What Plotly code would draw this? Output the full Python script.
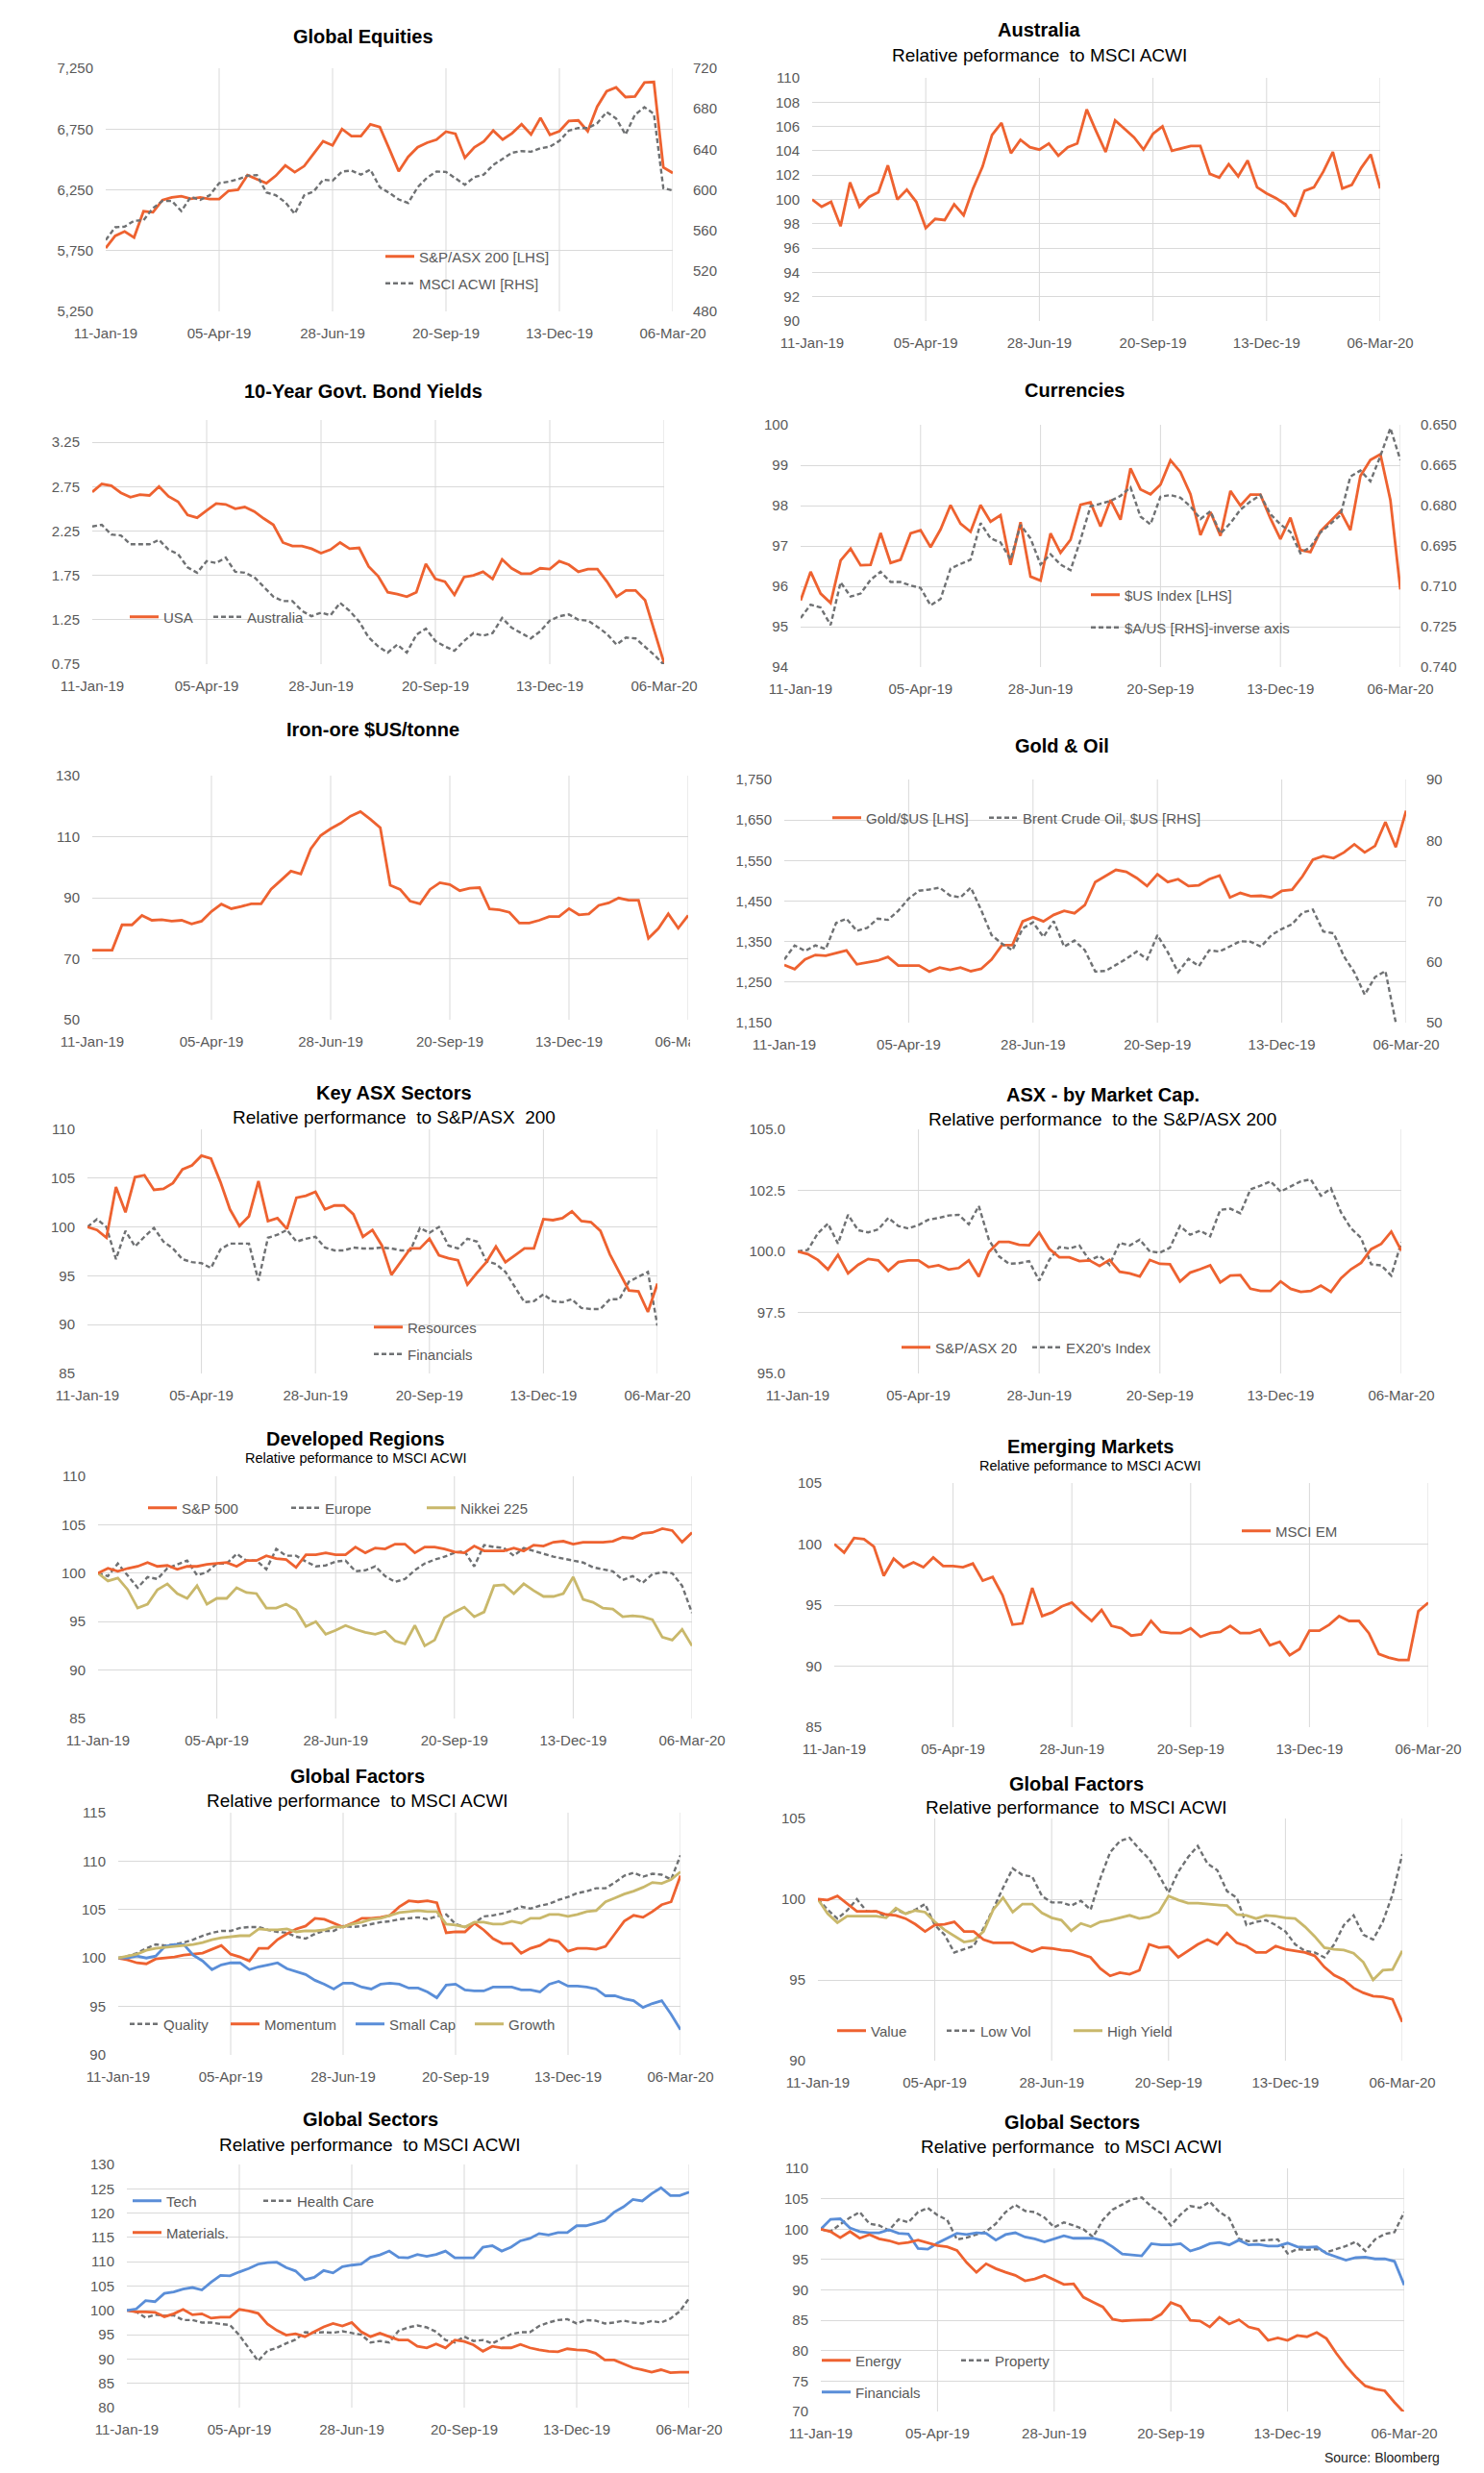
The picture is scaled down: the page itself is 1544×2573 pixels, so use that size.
import pandas as pd
import plotly.graph_objects as go

# ---------------- data ----------------
WEEKS = [d.strftime("%Y-%m-%d") for d in pd.date_range("2019-01-11", "2020-03-06", freq="7D")]
TICK_DATES = ["2019-01-11", "2019-04-05", "2019-06-28", "2019-09-20", "2019-12-13", "2020-03-06"]
TICK_TEXT = ["11-Jan-19", "05-Apr-19", "28-Jun-19", "20-Sep-19", "13-Dec-19", "06-Mar-20"]

ASX200 = [5771, 5871, 5908, 5858, 6074, 6066, 6166, 6187, 6197, 6176,
          6187, 6174, 6174, 6242, 6250, 6371, 6337, 6305, 6366, 6450,
          6395, 6445, 6547, 6650, 6616, 6750, 6692, 6692, 6789, 6766,
          6587, 6403, 6521, 6600, 6637, 6663, 6729, 6711, 6513, 6600,
          6647, 6737, 6663, 6716, 6789, 6705, 6842, 6703, 6732, 6816,
          6821, 6732, 6934, 7061, 7092, 7013, 7018, 7132, 7137, 6434, 6389]
MSCI_ACWI = [550.4, 563, 563.7, 569.4, 570, 582, 589, 589, 579, 593,
             590, 594.6, 606.6, 608, 610.4, 614, 614.5, 597.5, 594.6, 587.7,
             576.3, 594.6, 598.4, 610, 609, 618, 619, 615, 620, 602.5,
             597, 590.5, 587, 602.5, 612, 618, 617.7, 611.7, 605, 612.6,
             615, 624.6, 631, 636.6, 638.2, 637.6, 641, 642.6, 648.3, 658.4,
             661, 661, 665.7, 676.7, 670.4, 654.6, 674.2, 681.5, 675, 601.6, 599.4]
AUSTRALIA_REL = [100, 99.4, 99.8, 97.8, 101.4, 99.4, 100.2, 100.6, 102.8, 100,
                 100.8, 99.8, 97.65, 98.4, 98.3, 99.6, 98.7, 100.9, 102.7, 105.3,
                 106.3, 103.8, 104.9, 104.3, 104.1, 104.6, 103.6, 104.3, 104.6, 107.4,
                 105.6, 103.9, 106.5, 105.8, 105.1, 104.1, 105.4, 106, 104, 104.2,
                 104.4, 104.4, 102.1, 101.8, 102.9, 101.9, 103.2, 101, 100.5, 100.1,
                 99.6, 98.6, 100.7, 101, 102.3, 103.9, 100.9, 101.2, 102.6, 103.7, 100.9]
USA_10Y = [2.69, 2.78, 2.76, 2.68, 2.63, 2.66, 2.65, 2.75, 2.64, 2.58,
           2.43, 2.40, 2.48, 2.56, 2.55, 2.50, 2.52, 2.47, 2.39, 2.32,
           2.12, 2.08, 2.08, 2.05, 2.00, 2.04, 2.12, 2.05, 2.06, 1.85,
           1.74, 1.56, 1.54, 1.51, 1.56, 1.88, 1.71, 1.68, 1.53, 1.73,
           1.75, 1.79, 1.71, 1.93, 1.83, 1.77, 1.77, 1.83, 1.82, 1.91,
           1.87, 1.79, 1.82, 1.82, 1.68, 1.51, 1.58, 1.58, 1.47, 1.12, 0.76]
AUS_10Y = [2.30, 2.32, 2.21, 2.20, 2.10, 2.10, 2.10, 2.15, 2.04, 1.99,
           1.84, 1.78, 1.91, 1.89, 1.95, 1.79, 1.78, 1.73, 1.62, 1.51,
           1.46, 1.46, 1.35, 1.29, 1.33, 1.30, 1.44, 1.35, 1.23, 1.05,
           0.95, 0.88, 0.97, 0.88, 1.08, 1.15, 1.01, 0.95, 0.90, 1.01,
           1.10, 1.07, 1.10, 1.27, 1.16, 1.10, 1.04, 1.12, 1.24, 1.29,
           1.31, 1.25, 1.24, 1.17, 1.09, 0.97, 1.05, 1.04, 0.95, 0.85, 0.74]
USD_INDEX = [95.65, 96.36, 95.82, 95.59, 96.64, 96.93, 96.52, 96.53, 97.32, 96.58,
             96.66, 97.31, 97.39, 96.97, 97.41, 98.01, 97.55, 97.35, 98.01, 97.60,
             97.76, 96.53, 97.59, 96.24, 96.14, 97.31, 96.83, 97.15, 98.02, 98.08,
             97.48, 98.14, 97.65, 98.92, 98.40, 98.28, 98.52, 99.12, 98.83, 98.28,
             97.27, 97.84, 97.25, 98.36, 98.00, 98.27, 98.27, 97.68, 97.17, 97.70,
             96.90, 96.85, 97.36, 97.62, 97.86, 97.39, 98.73, 99.13, 99.27, 98.14, 95.92]
AUDUSD = [0.7218, 0.7168, 0.7179, 0.7244, 0.7085, 0.7138, 0.7127, 0.7076, 0.7046, 0.7084,
          0.7084, 0.7097, 0.7106, 0.7171, 0.7147, 0.7034, 0.7017, 0.7001, 0.6865, 0.6922,
          0.6937, 0.7001, 0.6872, 0.6922, 0.7019, 0.6981, 0.7019, 0.7040, 0.6927, 0.6803,
          0.6793, 0.6783, 0.6764, 0.6732, 0.6841, 0.6870, 0.6767, 0.6761, 0.6771, 0.6803,
          0.6850, 0.6821, 0.6904, 0.6865, 0.6815, 0.6785, 0.6761, 0.6832, 0.6870, 0.6898,
          0.6977, 0.6954, 0.6900, 0.6868, 0.6836, 0.6692, 0.6670, 0.6710, 0.6616, 0.6512, 0.6631]
IRON_ORE = [72.8, 72.8, 72.8, 81.1, 81.1, 84.2, 82.6, 82.8, 82.3, 82.6,
            81.4, 82.3, 85.5, 87.9, 86.4, 87.1, 88.0, 88.0, 92.8, 95.7,
            98.7, 97.8, 106.0, 110.4, 112.6, 114.4, 116.7, 118.2, 115.7, 112.9,
            94.1, 92.7, 88.9, 88.0, 92.7, 94.9, 94.3, 92.3, 93.1, 93.3,
            86.3, 86.0, 85.2, 81.7, 81.7, 82.6, 83.8, 83.8, 86.4, 84.4,
            84.7, 87.5, 88.3, 89.9, 89.2, 89.2, 76.7, 79.9, 84.7, 80.0, 84.2]
GOLD_USD = [1292, 1282, 1306, 1317, 1315, 1321, 1328, 1294, 1298, 1303,
            1312, 1291, 1291, 1291, 1276, 1286, 1280, 1286, 1277, 1283,
            1306, 1341, 1341, 1400, 1410, 1400, 1416, 1426, 1420, 1440,
            1497, 1513, 1527, 1522, 1507, 1487, 1516, 1497, 1504, 1487,
            1489, 1504, 1513, 1459, 1470, 1462, 1463, 1459, 1475, 1478,
            1511, 1552, 1561, 1556, 1570, 1590, 1570, 1586, 1645, 1583, 1673]
BRENT = [60.4, 62.7, 61.8, 62.7, 62.1, 66.4, 67.1, 65.1, 65.6, 67.1,
         66.9, 68.4, 70.4, 71.7, 71.9, 72.2, 70.9, 70.6, 72.2, 68.5,
         64.4, 63.0, 61.9, 65.5, 66.5, 64.1, 66.7, 62.5, 63.5, 61.9,
         58.4, 58.5, 59.5, 60.5, 61.7, 60.4, 64.4, 61.6, 58.3, 60.5,
         59.3, 61.9, 61.7, 62.6, 63.4, 63.3, 62.5, 64.4, 65.4, 66.2,
         68.1, 68.6, 65.0, 64.7, 60.9, 58.3, 54.6, 57.5, 58.5, 50.0, 45.3]
RESOURCES = [100, 99.7, 98.9, 104.1, 101.5, 105.1, 105.3, 103.8, 103.9, 104.5,
             105.9, 106.3, 107.3, 107.0, 104.6, 101.8, 100.1, 101.1, 104.7, 100.6,
             100.9, 99.8, 103.0, 103.2, 103.6, 101.8, 102.2, 102.2, 101.3, 99.0,
             99.7, 98.1, 95.1, 96.4, 97.8, 97.8, 98.8, 97.1, 96.8, 96.6,
             94.1, 95.3, 96.4, 98.0, 96.4, 97.1, 97.8, 97.8, 100.8, 100.7,
             100.9, 101.6, 100.6, 100.5, 99.6, 97.2, 95.3, 93.5, 93.4, 91.3, 94.2]
FINANCIALS_ASX = [100.0, 100.8, 100.0, 96.7, 99.6, 98.0, 99.0, 99.9, 98.5, 97.8,
                  96.7, 96.4, 96.3, 95.8, 97.7, 98.3, 98.3, 98.3, 94.5, 98.9,
                  99.2, 99.7, 98.5, 98.8, 99.0, 97.9, 97.6, 97.6, 97.9, 97.8,
                  97.8, 97.9, 97.8, 97.6, 97.6, 99.9, 99.4, 100.0, 98.1, 97.8,
                  98.8, 98.5, 96.5, 96.2, 95.4, 93.8, 92.3, 92.4, 93.1, 92.4,
                  92.3, 92.6, 91.7, 91.6, 91.6, 92.6, 92.6, 94.4, 94.9, 95.4, 89.9]
ASX20 = [100.0, 99.89, 99.65, 99.26, 99.86, 99.10, 99.45, 99.69, 99.63, 99.20,
         99.56, 99.63, 99.63, 99.36, 99.43, 99.26, 99.32, 99.63, 98.97, 99.98,
         100.39, 100.39, 100.27, 100.25, 100.77, 100.11, 99.76, 99.76, 99.60, 99.63,
         99.40, 99.65, 99.17, 99.10, 98.97, 99.65, 99.49, 99.47, 98.77, 99.13,
         99.27, 99.43, 98.73, 99.01, 99.03, 98.47, 98.38, 98.38, 98.77, 98.47,
         98.34, 98.38, 98.60, 98.34, 98.90, 99.27, 99.53, 100.09, 100.31, 100.81, 100.03]
EX20 = [100.0, 100.06, 100.74, 101.14, 100.32, 101.50, 100.87, 100.78, 100.90, 101.37,
        101.04, 100.94, 101.08, 101.30, 101.37, 101.47, 101.50, 101.11, 101.86, 100.48,
        99.80, 99.49, 99.52, 99.60, 98.80, 99.65, 100.18, 100.12, 100.24, 99.63,
        99.82, 99.45, 100.35, 100.24, 100.48, 100.0, 99.95, 100.15, 101.04, 100.68,
        100.85, 100.62, 101.70, 101.75, 101.56, 102.54, 102.69, 102.87, 102.45, 102.65,
        102.87, 102.95, 102.28, 102.58, 101.6, 100.94, 100.55, 99.47, 99.43, 99.01, 100.37]
SP500_REL = [100.0, 100.5, 100.2, 100.5, 100.7, 101.1, 100.7, 100.8, 100.4, 100.7,
             100.7, 100.9, 101.0, 101.1, 100.7, 101.3, 101.3, 101.8, 101.5, 101.4,
             100.6, 101.9, 101.9, 102.1, 101.9, 101.9, 102.7, 102.1, 102.6, 102.5,
             103.0, 103.0, 102.1, 102.7, 102.7, 102.5, 102.2, 102.1, 102.8, 102.3,
             102.3, 102.3, 102.6, 102.3, 102.9, 102.8, 103.2, 103.3, 103.0, 103.2,
             103.2, 103.2, 103.3, 103.7, 103.6, 104.1, 104.2, 104.6, 104.4, 103.2, 104.2]
EUROPE_REL = [100.0, 99.7, 101.0, 99.8, 98.5, 99.6, 99.4, 100.5, 100.9, 101.3,
              99.8, 100.1, 101.0, 101.0, 102.0, 101.3, 101.3, 100.4, 102.5, 101.8,
              101.8, 101.2, 100.7, 100.8, 101.2, 101.3, 100.2, 100.3, 100.7, 99.7,
              99.1, 99.4, 100.3, 101.0, 101.4, 101.7, 102.1, 102.3, 100.7, 102.9,
              102.7, 102.6, 101.8, 102.6, 102.3, 102.0, 101.7, 101.5, 101.3, 101.1,
              100.6, 100.4, 100.2, 99.3, 99.7, 99.0, 99.9, 100.1, 100.0, 98.7, 95.9]
NIKKEI_REL = [100.0, 99.2, 99.5, 98.3, 96.4, 96.8, 98.3, 98.9, 97.9, 97.4,
              98.7, 96.8, 97.4, 97.4, 98.5, 98.0, 97.9, 96.4, 96.4, 96.8,
              96.2, 94.5, 95.0, 93.7, 94.1, 94.6, 94.2, 93.9, 93.7, 94.0,
              93.0, 92.7, 94.6, 92.5, 93.1, 95.4, 96.0, 96.5, 95.5, 96.0,
              98.7, 98.8, 97.9, 98.9, 98.2, 97.6, 97.6, 97.9, 99.6, 97.3,
              97.0, 96.4, 96.3, 95.5, 95.6, 95.5, 95.2, 93.4, 93.1, 94.2, 92.5]
MSCI_EM_REL = [100.0, 99.3, 100.5, 100.4, 99.8, 97.4, 98.8, 98.1, 98.5, 98.1,
               98.9, 98.2, 98.2, 98.1, 98.4, 97.0, 97.3, 95.8, 93.4, 93.5,
               96.4, 94.1, 94.4, 94.9, 95.2, 94.4, 93.7, 94.6, 93.3, 93.1,
               92.5, 92.6, 93.7, 92.8, 92.7, 92.7, 93.1, 92.4, 92.7, 92.8,
               93.3, 92.7, 92.7, 93.0, 91.7, 92.0, 90.9, 91.4, 92.9, 92.9,
               93.4, 94.1, 93.7, 93.7, 92.7, 91.0, 90.7, 90.5, 90.5, 94.5, 95.2]
QUALITY = [100.0, 100.2, 100.5, 101.0, 101.4, 101.3, 101.4, 101.6, 101.9, 102.3,
           102.6, 102.8, 102.8, 103.1, 103.2, 103.2, 102.9, 102.7, 102.6, 102.2,
           102.0, 102.5, 102.8, 102.8, 103.3, 103.2, 103.3, 103.5, 103.7, 103.8,
           104.0, 104.1, 104.2, 104.0, 104.3, 104.5, 103.5, 103.2, 103.6, 104.3,
           104.4, 104.6, 104.9, 105.3, 105.1, 105.4, 105.6, 106.0, 106.3, 106.7,
           106.9, 107.2, 107.2, 107.8, 108.5, 108.8, 108.4, 108.7, 108.6, 108.1, 110.6]
MOMENTUM = [100.0, 99.8, 99.5, 99.4, 99.9, 100.0, 100.1, 100.3, 100.4, 100.5,
            100.9, 101.3, 100.4, 100.1, 99.7, 101.0, 101.0, 101.9, 102.5, 103.0,
            103.3, 104.1, 104.0, 103.6, 103.2, 103.6, 104.1, 104.1, 104.2, 104.4,
            105.3, 105.9, 105.8, 105.9, 105.7, 102.6, 102.7, 102.7, 103.6, 102.9,
            102.0, 101.5, 101.5, 100.5, 101.0, 101.3, 101.9, 101.7, 100.7, 101.0,
            101.0, 100.9, 101.2, 102.5, 103.8, 104.4, 104.2, 104.8, 105.5, 105.8, 108.5]
SMALL_CAP = [100.0, 100.0, 100.2, 100.0, 100.2, 101.2, 101.4, 101.4, 100.3, 99.7,
             98.8, 99.3, 99.5, 99.5, 98.8, 99.1, 99.3, 99.5, 98.9, 98.6,
             98.3, 97.7, 97.3, 96.8, 97.4, 97.4, 97.0, 96.8, 97.3, 97.4,
             97.3, 96.9, 96.9, 96.5, 95.9, 97.2, 97.3, 96.7, 96.6, 96.6,
             97.0, 97.0, 97.0, 96.7, 96.7, 96.5, 97.3, 97.6, 97.1, 97.1,
             97.0, 96.8, 96.1, 96.1, 95.8, 95.6, 94.9, 95.3, 95.6, 94.2, 92.6]
GROWTH = [100.0, 100.2, 100.4, 100.8, 101.0, 101.1, 101.2, 101.3, 101.4, 101.6,
          101.9, 102.1, 102.2, 102.3, 102.3, 103.0, 102.9, 102.9, 103.0, 102.7,
          102.8, 102.8, 102.9, 103.2, 103.2, 103.5, 103.7, 104.0, 104.1, 104.4,
          104.7, 104.8, 104.9, 104.8, 104.8, 103.5, 103.4, 103.2, 103.7, 103.7,
          103.5, 103.5, 103.8, 103.6, 104.1, 104.1, 104.5, 104.5, 104.3, 104.5,
          104.8, 104.9, 105.8, 106.2, 106.6, 106.9, 107.3, 107.8, 107.7, 108.1, 108.9]
VALUE = [100.0, 99.95, 100.2, 99.7, 99.25, 99.25, 99.25, 99.05, 99.0, 98.8,
         98.45, 98.0, 98.4, 98.45, 98.6, 98.0, 98.0, 97.5, 97.3, 97.3,
         97.3, 97.0, 96.75, 97.0, 96.95, 96.85, 96.8, 96.6, 96.4, 95.7,
         95.25, 95.45, 95.35, 95.6, 97.2, 97.0, 97.05, 96.4, 96.8, 97.2,
         97.5, 97.2, 97.9, 97.3, 97.1, 96.7, 96.7, 97.1, 96.9, 96.8,
         96.7, 96.5, 95.8, 95.3, 95.0, 94.5, 94.2, 94.0, 93.95, 93.8, 92.4]
LOW_VOL = [100.0, 99.35, 98.8, 99.3, 100.0, 99.25, 99.25, 98.9, 99.35, 99.1,
           99.35, 99.7, 98.4, 97.8, 96.7, 96.9, 97.1, 98.2, 99.4, 100.7,
           101.9, 101.5, 101.4, 100.2, 99.8, 99.8, 99.6, 99.9, 99.35, 101.3,
           102.9, 103.6, 103.8, 103.1, 102.5, 101.5, 100.4, 101.7, 102.6, 103.3,
           102.2, 101.8, 100.5, 100.1, 98.4, 98.6, 98.7, 98.4, 98.0, 97.2,
           96.8, 96.7, 96.4, 97.2, 98.4, 99.0, 97.8, 97.5, 98.6, 100.3, 102.8]
HIGH_YIELD = [100.0, 99.1, 98.55, 98.95, 98.95, 98.95, 98.95, 98.85, 99.45, 99.1,
              99.3, 99.2, 98.6, 98.1, 97.7, 97.35, 97.45, 98.0, 99.35, 100.1,
              99.2, 99.7, 99.7, 99.15, 98.85, 98.7, 98.05, 98.5, 98.3, 98.6,
              98.7, 98.85, 99.0, 98.8, 98.9, 99.2, 100.2, 99.95, 99.75, 99.75,
              99.7, 99.65, 99.6, 99.05, 99.0, 98.8, 99.0, 98.95, 98.85, 98.8,
              98.3, 97.7, 97.0, 96.9, 96.85, 96.65, 96.1, 95.0, 95.6, 95.65, 96.8]
TECH = [100.0, 100.3, 102.0, 101.8, 103.5, 103.8, 104.4, 104.7, 104.2, 105.8,
        107.2, 107.1, 107.9, 108.6, 109.5, 109.8, 109.9, 108.8, 108.1, 106.3,
        106.8, 108.2, 107.7, 109.0, 109.3, 109.5, 110.9, 111.4, 112.2, 110.9,
        110.8, 111.5, 111.1, 111.5, 112.2, 110.8, 110.8, 110.8, 113.0, 113.3,
        112.2, 113.0, 114.3, 114.8, 115.8, 115.5, 116.0, 116.0, 117.4, 117.4,
        117.9, 118.5, 120.2, 121.3, 122.8, 122.5, 124.0, 125.2, 123.6, 123.6, 124.3]
HEALTH_CARE = [100.0, 99.7, 98.5, 99.1, 98.9, 99.0, 98.0, 98.0, 97.5, 97.5,
               97.2, 97.0, 94.9, 92.3, 89.6, 91.7, 92.3, 93.2, 94.0, 95.5,
               95.4, 95.5, 95.4, 95.7, 95.4, 95.0, 93.4, 93.7, 93.4, 95.8,
               96.5, 96.9, 96.5, 95.6, 93.9, 93.4, 94.6, 93.7, 93.9, 93.2,
               94.2, 95.1, 95.5, 95.5, 96.8, 97.5, 98.0, 98.2, 97.3, 98.0,
               97.9, 97.3, 97.5, 97.9, 97.5, 97.3, 97.8, 97.5, 98.3, 99.8, 102.5]
MATERIALS = [100.0, 99.7, 99.7, 99.6, 98.7, 99.3, 100.2, 99.1, 99.3, 98.4,
             98.6, 98.6, 100.2, 99.9, 99.4, 97.2, 95.9, 94.9, 95.2, 94.6,
             95.6, 96.6, 97.3, 96.8, 97.5, 95.6, 94.6, 95.3, 94.6, 93.9,
             93.9, 92.6, 92.3, 93.1, 92.3, 93.9, 93.6, 92.9, 91.6, 92.6,
             92.3, 92.3, 93.0, 92.3, 91.9, 91.6, 91.5, 92.1, 91.9, 91.8,
             91.2, 89.8, 89.8, 89.0, 88.2, 87.8, 87.3, 87.8, 87.2, 87.3, 87.3]
ENERGY = [100.0, 99.6, 98.6, 99.6, 98.5, 99.1, 98.4, 98.1, 97.6, 97.8,
          98.2, 97.7, 97.3, 97.1, 96.5, 94.5, 92.9, 94.3, 93.5, 92.9,
          92.4, 91.5, 91.8, 92.4, 91.7, 90.9, 91.0, 88.8, 88.0, 87.2,
          85.2, 84.9, 85.0, 85.1, 85.1, 86.0, 87.9, 87.3, 85.0, 84.9,
          83.9, 85.5, 84.4, 85.1, 83.9, 83.5, 81.7, 82.1, 81.7, 82.5,
          82.3, 83.0, 82.0, 79.6, 77.5, 75.7, 74.2, 73.7, 73.4, 71.5, 69.8]
PROPERTY = [100.0, 99.6, 100.8, 101.9, 102.8, 100.9, 100.6, 99.8, 101.6, 101.1,
            102.8, 103.5, 102.3, 101.5, 98.3, 98.6, 99.1, 99.6, 100.9, 102.8,
            104.0, 103.0, 102.8, 101.9, 100.3, 101.1, 100.6, 100.0, 98.7, 101.5,
            103.2, 104.0, 104.9, 105.2, 103.7, 102.6, 100.6, 102.4, 103.8, 103.5,
            104.5, 102.8, 101.8, 98.4, 98.0, 98.1, 98.2, 98.3, 96.0, 96.7,
            96.6, 96.7, 96.2, 96.7, 97.2, 97.9, 96.4, 98.3, 99.2, 99.5, 102.8]
FINANCIALS_GLOBAL = [100.0, 101.6, 101.7, 100.2, 99.6, 99.4, 99.4, 99.9, 99.3, 99.2,
                     96.8, 96.7, 97.7, 98.5, 99.3, 99.1, 99.4, 99.3, 98.2, 99.1,
                     99.4, 98.7, 98.4, 97.9, 98.4, 98.9, 98.5, 98.5, 98.5, 98.1,
                     97.1, 95.9, 95.7, 95.6, 97.6, 97.4, 97.4, 97.6, 96.4, 96.9,
                     97.6, 97.8, 97.4, 98.2, 97.4, 97.5, 97.2, 97.2, 97.7, 97.1,
                     97.0, 97.1, 96.0, 95.5, 94.9, 95.3, 95.4, 95.1, 95.1, 94.7, 90.8]

# ---------------- styling / layout helpers ----------------
OFF = 8                      # page margin of the browser body
W, H = 1544 - 2 * OFF, 2573 - 2 * OFF
FONT = "Liberation Sans, Arial, Helvetica, sans-serif"
ORANGE = "#EE6230"
GREY = "#6F7173"
BLUE = "#5A8ED8"
OLIVE = "#C9B86B"
TXT = "#595959"
GRID = "#D9D9D9"
TICKSIZE = 15
DASH = "5px,3px"
SOLID_W = 2.8
DASH_W = 2.4


def fx(p):
    return (p - OFF) / W


def fy(p):
    return 1 - (p - OFF) / H


def akey(kind, n):
    return kind if n == 1 else f"{kind}{n}"


def aref(letter, n):
    return letter if n == 1 else f"{letter}{n}"


fig = go.Figure()
lay = dict(template="none", width=W, height=H, autosize=False,
           margin=dict(l=0, r=0, t=0, b=0, pad=0, autoexpand=False),
           paper_bgcolor="white", plot_bgcolor="white", showlegend=True,
           font=dict(family=FONT, color=TXT, size=TICKSIZE))
annotations = []
shapes = []
legend_count = [0]


def panel(n, box, yrange, dtick, fmt, y2=None):
    x0, x1, yt, yb = box
    lay[akey("xaxis", n)] = dict(
        domain=[fx(x0), fx(x1)], anchor=aref("y", n), type="date",
        range=[WEEKS[0], WEEKS[-1]], tickmode="array", tickvals=TICK_DATES,
        ticktext=TICK_TEXT, showgrid=False, zeroline=False, showline=False,
        ticks="", ticklabelstandoff=12, automargin=False,
        tickfont=dict(size=TICKSIZE, color=TXT, family=FONT))
    lay[akey("yaxis", n)] = dict(
        domain=[fy(yb), fy(yt)], anchor=aref("x", n), range=yrange,
        tickmode="linear", tick0=yrange[0], dtick=dtick, tickformat=fmt,
        showgrid=True, gridcolor=GRID, gridwidth=1, zeroline=False,
        showline=False, ticks="", ticklabelstandoff=12, automargin=False,
        tickfont=dict(size=TICKSIZE, color=TXT, family=FONT))
    # vertical gridlines (none on the left edge, as in the original)
    for d in TICK_DATES[1:]:
        shapes.append(dict(type="line", xref=aref("x", n), yref=f"{aref('y', n)} domain",
                           x0=d, x1=d, y0=0, y1=1, layer="below",
                           line=dict(color=GRID, width=1)))
    if y2 is not None:
        r2, d2, f2 = y2
        lay[f"yaxis{20 + n}"] = dict(
            overlaying=aref("y", n), side="right", anchor=aref("x", n),
            range=r2, tickmode="linear", tick0=min(r2), dtick=d2,
            tickformat=f2, showgrid=False, zeroline=False, showline=False,
            ticks="", ticklabelstandoff=20, automargin=False,
            tickfont=dict(size=TICKSIZE, color=TXT, family=FONT))


def new_legend(x, y):
    legend_count[0] += 1
    k = legend_count[0]
    key = "legend" if k == 1 else f"legend{k}"
    lay[key] = dict(x=fx(x - 5), y=fy(y), xanchor="left", yanchor="middle",
                    orientation="h", bgcolor="rgba(0,0,0,0)", itemwidth=30,
                    font=dict(size=TICKSIZE, color=TXT, family=FONT))
    return key


def line(n, y, name, color, leg_xy=None, dash=None, secondary=False):
    ya = f"y{20 + n}" if secondary else aref("y", n)
    width = DASH_W if dash else SOLID_W
    kw = dict(showlegend=False)
    if leg_xy is not None:
        kw = dict(showlegend=True, legend=new_legend(*leg_xy))
    fig.add_trace(go.Scatter(
        x=WEEKS, y=y, name=name, mode="lines", xaxis=aref("x", n), yaxis=ya,
        line=dict(color=color, width=width, dash=dash), hoverinfo="skip", **kw))


def text(x, y, s, size, bold=False, color="black", anchor="center"):
    annotations.append(dict(
        x=fx(x), y=fy(y), xref="paper", yref="paper", showarrow=False,
        text=f"<b>{s}</b>" if bold else s, xanchor=anchor, yanchor="middle",
        font=dict(size=size, color=color, family=FONT)))


# 1 Global Equities
panel(1, (110, 700, 71, 324), [5250, 7250], 500, ",.0f", y2=([480, 720], 40, ".0f"))
line(1, ASX200, "S&P/ASX 200 [LHS]", ORANGE, (401, 267))
line(1, MSCI_ACWI, "MSCI ACWI [RHS]", GREY, (401, 295), dash=DASH, secondary=True)
text(378, 38, "Global Equities", 20, bold=True)

# 2 Australia
panel(2, (845, 1436, 81, 334), [90, 110], 2, "d")
line(2, AUSTRALIA_REL, "Australia", ORANGE)
text(1081, 31, "Australia", 20, bold=True)
text(1081, 57, "Relative peformance  to MSCI ACWI", 19)

# 3 Bond yields
panel(3, (96, 691, 437, 691), [0.75, 3.5], 0.5, ".2f")
line(3, USA_10Y, "USA", ORANGE, (135, 642))
line(3, AUS_10Y, "Australia", GREY, (222, 642), dash=DASH)
text(378, 407, "10-Year Govt. Bond Yields", 20, bold=True)

# 4 Currencies
panel(4, (833, 1457, 442, 694), [94, 100], 1, "d", y2=([0.740, 0.650], 0.015, ".3f"))
line(4, AUDUSD, "$A/US [RHS]-inverse axis", GREY, (1135, 653), dash=DASH, secondary=True)
line(4, USD_INDEX, "$US Index [LHS]", ORANGE, (1135, 619))
text(1118, 406, "Currencies", 20, bold=True)

# 5 Iron ore
panel(5, (96, 716, 807, 1061), [50, 130], 20, "d")
line(5, IRON_ORE, "Iron-ore", ORANGE)
text(388, 759, "Iron-ore $US/tonne", 20, bold=True)
shapes.append(dict(type="rect", xref="paper", yref="paper", x0=fx(718), x1=fx(754),
                   y0=fy(1100), y1=fy(1064), fillcolor="white", line=dict(width=0),
                   layer="above"))

# 6 Gold & Oil
panel(6, (816, 1463, 811, 1064), [1150, 1750], 100, ",.0f", y2=([50, 90], 10, "d"))
line(6, BRENT, "Brent Crude Oil, $US [RHS]", GREY, (1029, 851), dash=DASH, secondary=True)
line(6, GOLD_USD, "Gold/$US [LHS]", ORANGE, (866, 851))
text(1105, 776, "Gold & Oil", 20, bold=True)

# 7 Key ASX sectors
panel(7, (91, 684, 1175, 1429), [85, 110], 5, "d")
line(7, FINANCIALS_ASX, "Financials", GREY, (389, 1409), dash=DASH)
line(7, RESOURCES, "Resources", ORANGE, (389, 1381))
text(410, 1137, "Key ASX Sectors", 20, bold=True)
text(410, 1162, "Relative performance  to S&P/ASX  200", 19)

# 8 ASX by market cap
panel(8, (830, 1458, 1175, 1429), [95, 105], 2.5, ".1f")
line(8, EX20, "EX20's Index", GREY, (1074, 1402), dash=DASH)
line(8, ASX20, "S&P/ASX 20", ORANGE, (938, 1402))
text(1147, 1139, "ASX - by Market Cap.", 20, bold=True)
text(1147, 1164, "Relative performance  to the S&P/ASX 200", 19)

# 9 Developed regions
panel(9, (102, 720, 1536, 1788), [85, 110], 5, "d")
line(9, EUROPE_REL, "Europe", GREY, (303, 1569), dash=DASH)
line(9, NIKKEI_REL, "Nikkei 225", OLIVE, (444, 1569))
line(9, SP500_REL, "S&P 500", ORANGE, (154, 1569))
text(370, 1497, "Developed Regions", 20, bold=True)
text(370, 1517, "Relative peformance to MSCI ACWI", 14.5)

# 10 Emerging markets
panel(10, (868, 1486, 1543, 1797), [85, 105], 5, "d")
line(10, MSCI_EM_REL, "MSCI EM", ORANGE, (1292, 1593))
text(1134, 1505, "Emerging Markets", 20, bold=True)
text(1134, 1525, "Relative peformance to MSCI ACWI", 14.5)

# 11 Global factors (left)
panel(11, (123, 708, 1886, 2138), [90, 115], 5, "d")
line(11, QUALITY, "Quality", GREY, (135, 2106), dash=DASH)
line(11, MOMENTUM, "Momentum", ORANGE, (240, 2106))
line(11, SMALL_CAP, "Small Cap", BLUE, (370, 2106))
line(11, GROWTH, "Growth", OLIVE, (494, 2106))
text(372, 1848, "Global Factors", 20, bold=True)
text(372, 1873, "Relative performance  to MSCI ACWI", 19)

# 12 Global factors (right)
panel(12, (851, 1459, 1892, 2144), [90, 105], 5, "d")
line(12, LOW_VOL, "Low Vol", GREY, (985, 2113), dash=DASH)
line(12, HIGH_YIELD, "High Yield", OLIVE, (1117, 2113))
line(12, VALUE, "Value", ORANGE, (871, 2113))
text(1120, 1856, "Global Factors", 20, bold=True)
text(1120, 1880, "Relative performance  to MSCI ACWI", 19)

# 13 Global sectors (left)
panel(13, (132, 717, 2252, 2505), [80, 130], 5, "d")
line(13, HEALTH_CARE, "Health Care", GREY, (274, 2290), dash=DASH)
line(13, MATERIALS, "Materials.", ORANGE, (138, 2323))
line(13, TECH, "Tech", BLUE, (138, 2290))
text(385, 2205, "Global Sectors", 20, bold=True)
text(385, 2231, "Relative performance  to MSCI ACWI", 19)

# 14 Global sectors (right)
panel(14, (854, 1461, 2256, 2509), [70, 110], 5, "d")
line(14, PROPERTY, "Property", GREY, (1000, 2456), dash=DASH)
line(14, FINANCIALS_GLOBAL, "Financials", BLUE, (855, 2489))
line(14, ENERGY, "Energy", ORANGE, (855, 2456))
text(1115, 2208, "Global Sectors", 20, bold=True)
text(1115, 2233, "Relative performance  to MSCI ACWI", 19)

text(1500, 2557, "Source: Bloomberg", 14, color="#222222", anchor="right")

lay["annotations"] = annotations
lay["shapes"] = shapes
fig.update_layout(**lay)
fig.write_html("out.html")
